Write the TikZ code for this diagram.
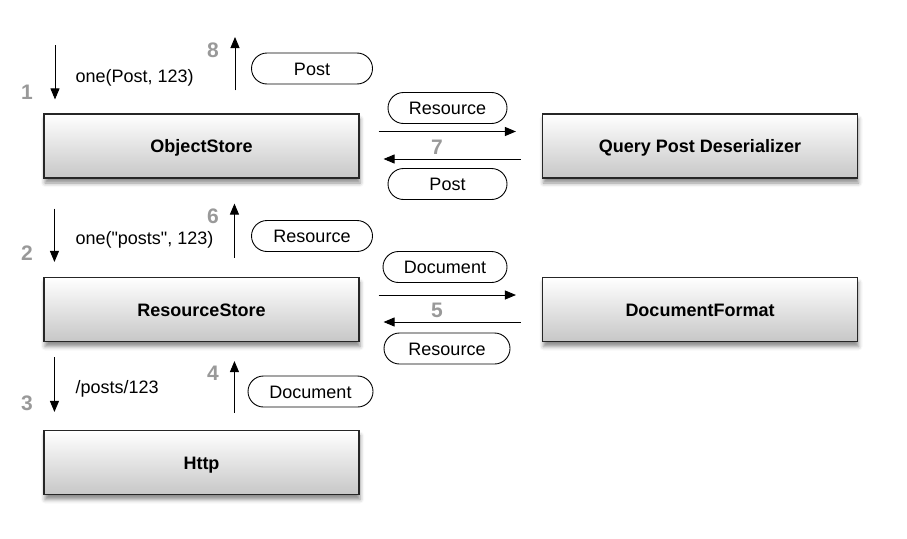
\documentclass[tikz,border=0pt]{standalone}
\usepackage{fontspec}
\setmainfont{Liberation Sans}
\usetikzlibrary{positioning,arrows.meta,shadows.blur}

\begin{document}
\begin{tikzpicture}[
  x=1pt, y=-1pt,
  store/.style={draw=black!85, line width=1.1pt, top color=white, bottom color=black!22, minimum width=315pt, minimum height=64pt, text height=13pt, text depth=0pt, font=\fontsize{18}{20}\selectfont\bfseries, blur shadow={shadow xshift=1pt, shadow yshift=-5pt, shadow blur radius=4pt, shadow opacity=45}},
  msg/.style={draw, line width=0.9pt, rounded corners=15.5pt, minimum width=121pt, minimum height=31pt, inner sep=0pt, text height=13pt, text depth=0pt, font=\fontsize{18}{20}\selectfont},
  call/.style={anchor=west, text height=13pt, text depth=0pt, font=\fontsize{18}{20}\selectfont},
  stepnum/.style={text=black!40, font=\fontsize{21}{22}\selectfont\bfseries},
  arrow/.style={-{Triangle[length=11pt,width=9pt]}, line width=0.9pt},
]
\useasboundingbox (0,0) rectangle (907,538);
\node[store] (os) at (201.5,146) {ObjectStore};
\node[store] (qpd) at (700,146) {Query Post Deserializer};
\node[store] (rs) at (201.5,309.5) {ResourceStore};
\node[store] (df) at (700,309.5) {DocumentFormat};
\node[store] (http) at (201.5,462.5) {Http};
\node[call] (c1) at (72,76) {one(Post, 123)};
\node[call] (c2) at (72,238) {one(\textquotedbl posts\textquotedbl, 123)};
\node[call] (c3) at (72,387) {/posts/123};
\node[stepnum] (n1) at (27,92) {1};
\node[stepnum] (n2) at (27,253) {2};
\node[stepnum] (n3) at (27,403) {3};
\node[stepnum] (n4) at (213,373) {4};
\node[stepnum] (n5) at (437,310) {5};
\node[stepnum] (n6) at (213,216) {6};
\node[stepnum] (n7) at (437,147) {7};
\node[stepnum] (n8) at (213,50) {8};
\node[msg] (m8) at (312,68.5) {Post};
\node[msg] (m6) at (312,236) {Resource};
\node[msg, minimum width=125pt] (m4) at (310.5,391.5) {Document};
\node[msg, minimum width=119pt] (mres) at (447.5,108) {Resource};
\node[msg, minimum width=119pt] (mpost) at (447.5,184) {Post};
\node[msg, minimum width=124pt] (mdoc) at (445,267) {Document};
\node[msg, minimum width=126pt] (mres2) at (447,348.5) {Resource};
\coordinate (top1) at (55,45);
\coordinate (top8) at (235,37);
\draw[arrow, shorten >=14pt] (top1) -- (top1 |- os.north);
\draw[arrow, shorten <=23pt] (top8 |- os.north) -- (top8);
\draw[arrow, shorten <=30pt, shorten >=15pt] ([xshift=11pt]os.south west) -- ([xshift=11pt]rs.north west);
\draw[arrow, shorten <=19pt, shorten >=25pt] ([xshift=191pt]rs.north west) -- ([xshift=191pt]os.south west);
\draw[arrow, shorten <=15pt, shorten >=18pt] ([xshift=11pt]rs.south west) -- ([xshift=11pt]http.north west);
\draw[arrow, shorten <=17pt, shorten >=19pt] ([xshift=191pt]http.north west) -- ([xshift=191pt]rs.south west);
\draw[arrow, shorten <=19pt, shorten >=26pt] ([yshift=14.5pt]os.east) -- ([yshift=14.5pt]qpd.west);
\draw[arrow, shorten <=21pt, shorten >=24pt] ([yshift=-13pt]qpd.west) -- ([yshift=-13pt]os.east);
\draw[arrow, shorten <=19pt, shorten >=26pt] ([yshift=14.5pt]rs.east) -- ([yshift=14.5pt]df.west);
\draw[arrow, shorten <=21pt, shorten >=24pt] ([yshift=-12.5pt]df.west) -- ([yshift=-12.5pt]rs.east);
\end{tikzpicture}
\end{document}
